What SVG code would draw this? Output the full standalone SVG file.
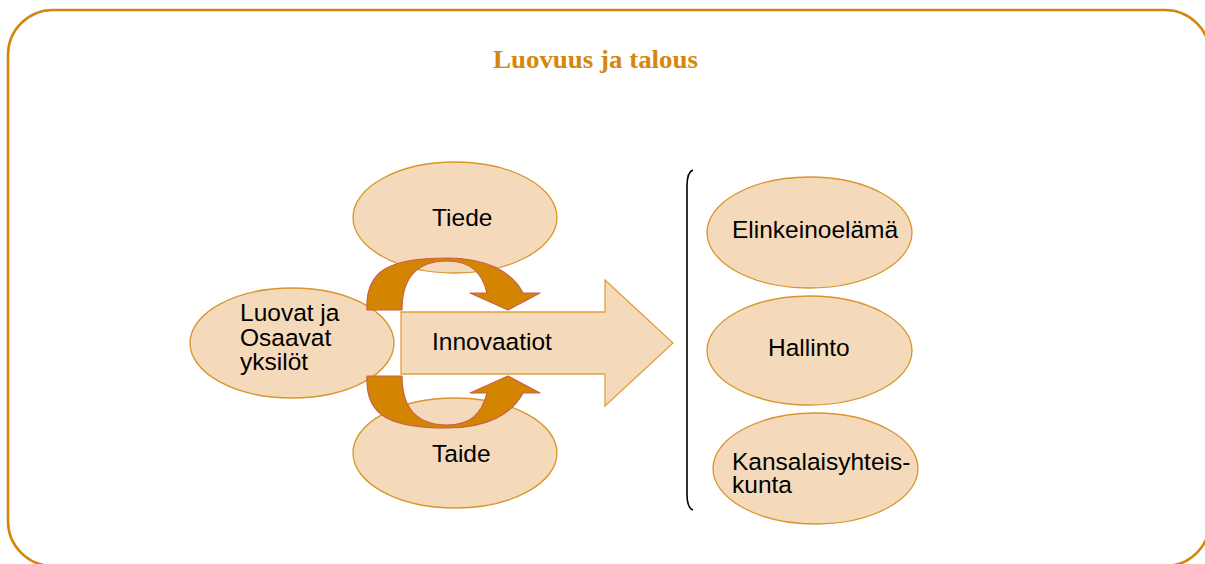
<svg xmlns="http://www.w3.org/2000/svg" width="1205" height="564" viewBox="0 0 1205 564">
<defs>
<style>
.frame{fill:#fff;stroke:#D4870A;stroke-width:2.6}
.title{font-family:"Liberation Serif",serif;font-weight:bold;font-size:26px;fill:#D4870A}
.ell{fill:#F5D9BB;stroke:#D9952A;stroke-width:1.3}
.lbl{font-family:"Liberation Sans",Arial,sans-serif;font-size:24.5px;fill:#000}
.cur{fill:#D38400;stroke:#C8604A;stroke-width:1.2;stroke-linejoin:round}
.big{fill:#F5D9BB;stroke:#E0A040;stroke-width:1.3}
.brk{fill:none;stroke:#000;stroke-width:1.6}
</style>
<path id="carc" d="M367,310 C365,270 390,258 447,258 C487,258 512,272 523,293 L540,293 L508,310 L470,293 L487,293 C482,272 470,261 447,261 C420,261 402,275 402,310 Z"/>
</defs>
<rect class="frame" x="8" y="10" width="1202" height="556" rx="45" ry="45"/>
<text class="title" x="595.5" y="68" text-anchor="middle" textLength="205" lengthAdjust="spacingAndGlyphs">Luovuus ja talous</text>

<g id="tiede"><ellipse class="ell" cx="455" cy="217.5" rx="102" ry="55.5"/><text class="lbl" x="432" y="226">Tiede</text></g>
<g id="taide"><ellipse class="ell" cx="455" cy="453" rx="102" ry="55"/><text class="lbl" x="432" y="462">Taide</text></g>
<g id="luovat"><ellipse class="ell" cx="292" cy="343" rx="102" ry="55"/><text class="lbl" x="240" y="321">Luovat ja</text><text class="lbl" x="240" y="346">Osaavat</text><text class="lbl" x="240" y="370">yksilöt</text></g>
<g id="innovaatiot"><path class="big" d="M401,312 L605,312 L605,280 L673,343 L605,406 L605,374 L401,374 Z"/><text class="lbl" x="432" y="350">Innovaatiot</text></g>

<g id="connectors">
<use href="#carc" class="cur"/>
<use href="#carc" class="cur" transform="translate(0,686) scale(1,-1)"/>
<path class="brk" d="M693,170 Q687,172 687,186 L687,494 Q687,508 693,510"/>
</g>

<g id="elinkeinoelama"><ellipse class="ell" cx="809.5" cy="232.5" rx="102.5" ry="55.5"/><text class="lbl" x="732" y="238">Elinkeinoelämä</text></g>
<g id="hallinto"><ellipse class="ell" cx="809.5" cy="350.5" rx="102.5" ry="54.5"/><text class="lbl" x="768" y="356">Hallinto</text></g>
<g id="kansalaisyhteiskunta"><ellipse class="ell" cx="815.5" cy="468.5" rx="102.5" ry="55.5"/><text class="lbl" x="732" y="470">Kansalaisyhteis-</text><text class="lbl" x="732" y="493">kunta</text></g>
</svg>
